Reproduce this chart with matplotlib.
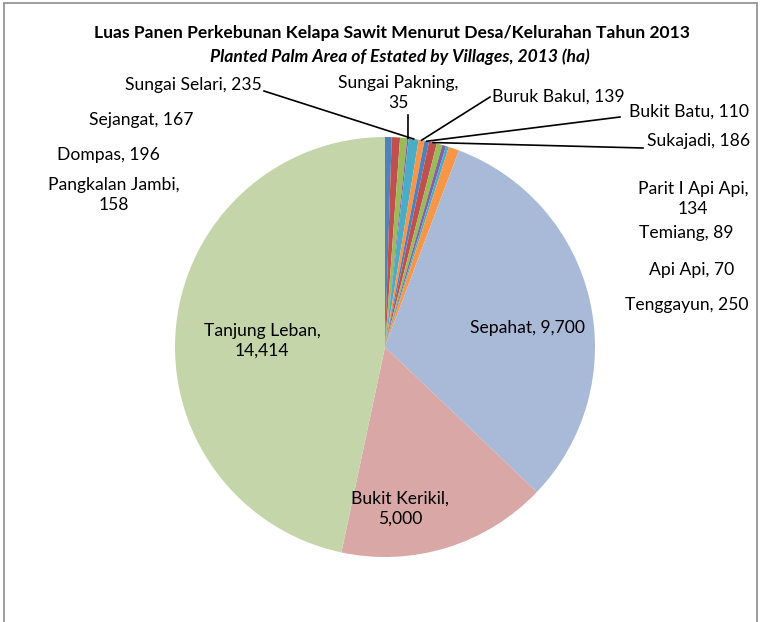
import numpy as np
import matplotlib
matplotlib.use("Agg")
import matplotlib.pyplot as plt
from matplotlib.patches import Rectangle

plt.rcParams['font.family'] = ['Lato', 'DejaVu Sans']

# data (clockwise from 12 o'clock)
villages = ["Pangkalan Jambi", "Dompas", "Sejangat", "Sungai Pakning", "Sungai Selari",
            "Buruk Bakul", "Bukit Batu", "Sukajadi", "Parit I Api Api", "Temiang",
            "Api Api", "Tenggayun", "Sepahat", "Bukit Kerikil", "Tanjung Leban"]
area = [158, 196, 167, 35, 235, 139, 110, 186, 134, 89, 70, 250, 9700, 5000, 14414]
colors = ["#4F81BD", "#C0504D", "#9BBB59", "#8064A2", "#4BACC6", "#F79646",
          "#4F81BD", "#C0504D", "#9BBB59", "#8064A2", "#4BACC6", "#F79646",
          "#A9B9D8", "#D9A7A6", "#C4D6A9"]

W, H = 761, 622
CX, CY, R = 385, 347, 210


def px(x, y):
    # image pixel -> pie data coords
    return (x - CX) / R, (CY - y) / R


fig = plt.figure(figsize=(W / 100, H / 100), dpi=100)
fig.patches.append(Rectangle((4 / W, -0.02), 753 / W, 1 - 3 / H + 0.02,
                             transform=fig.transFigure, fill=False,
                             edgecolor="#8c8c8c", linewidth=1.2))

ax = fig.add_axes([(CX - R) / W, (H - CY - R) / H, 2 * R / W, 2 * R / H])
wedges, _ = ax.pie(area, colors=colors, startangle=90, counterclock=False,
                   radius=1, wedgeprops=dict(linewidth=0))
ax.set_xlim(-1, 1)
ax.set_ylim(-1, 1)
ax.axis("off")

fig.text(392 / W, 1 - 33 / H, "Luas Panen Perkebunan Kelapa Sawit Menurut Desa/Kelurahan Tahun 2013",
         ha="center", va="center", fontsize=12.6, fontweight="bold")
fig.text(400 / W, 1 - 57 / H, "Planted Palm Area of Estated by Villages, 2013 (ha)",
         ha="center", va="center", fontsize=12.6, fontweight="bold", fontstyle="italic")

# label positions in image pixels (centre of text), alignment, leader line start
label_pos = {
    "Pangkalan Jambi": (114, 195, "center", None),
    "Dompas": (108, 155, "center", None),
    "Sejangat": (141, 120, "center", None),
    "Sungai Pakning": (398, 93, "center", (408, 115)),
    "Sungai Selari": (193, 85, "center", (264, 91)),
    "Buruk Bakul": (558, 97, "center", (490, 97)),
    "Bukit Batu": (689, 112, "center", (620, 117)),
    "Sukajadi": (699, 141, "center", (643, 148)),
    "Parit I Api Api": (693, 199, "center", None),
    "Temiang": (686, 233, "center", None),
    "Api Api": (692, 270, "center", None),
    "Tenggayun": (687, 305, "center", None),
    "Sepahat": (527, 328, "center", None),
    "Bukit Kerikil": (400, 509, "center", None),
    "Tanjung Leban": (262, 341, "center", None),
}
two_line = {"Pangkalan Jambi", "Sungai Pakning", "Parit I Api Api", "Bukit Kerikil", "Tanjung Leban"}

total = sum(area)
cum = np.cumsum([0] + area[:-1])
for name, val, w, c0 in zip(villages, area, wedges, cum):
    x, y, ha, lead = label_pos[name]
    txt = f"{name},\n{val:,}" if name in two_line else f"{name}, {val:,}"
    tx, ty = px(x, y)
    ax.text(tx, ty, txt, ha=ha, va="center", fontsize=12.6, linespacing=1.3,
            clip_on=False)
    if lead is not None:
        mid = np.deg2rad(90 - (c0 + val / 2) / total * 360)
        ex, ey = np.cos(mid), np.sin(mid)
        sx, sy = px(*lead)
        ax.plot([sx, ex], [sy, ey], color="black", linewidth=1.2, clip_on=False)

fig.savefig("out.png", dpi=100)
